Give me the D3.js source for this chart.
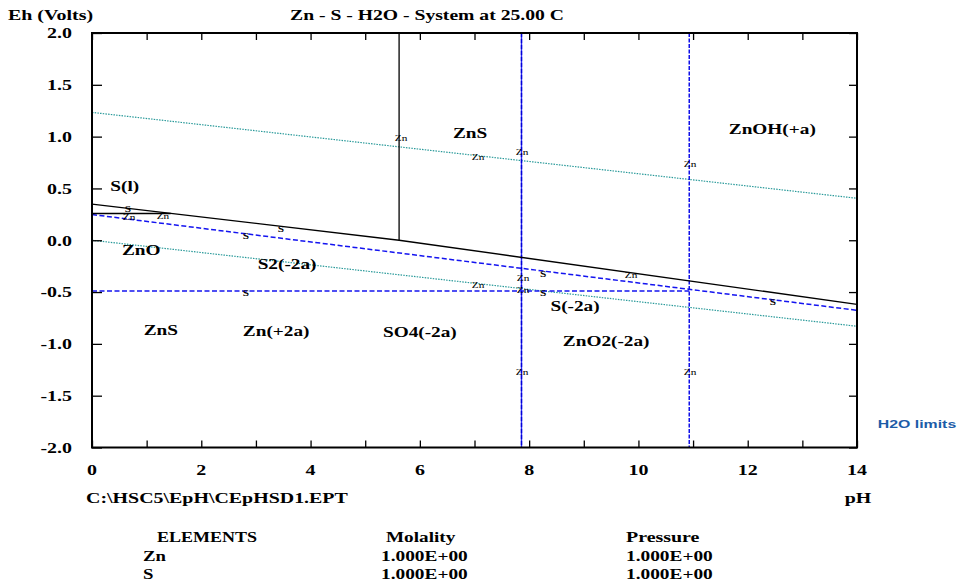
<!DOCTYPE html>
<html><head><meta charset="utf-8">
<script src="https://cdn.jsdelivr.net/npm/d3@7"></script>
<style>body{margin:0;background:#fff}svg{display:block}</style>
</head><body><svg id="c" width="963" height="582"></svg>
<script>
// ---------- data ----------
const xTickValues = [0,1,2,3,4,5,6,7,8,9,10,11,12,13,14];
const xTickLabels = ["0","2","4","6","8","10","12","14"];
const yTickValues = [2.0,1.5,1.0,0.5,0.0,-0.5,-1.0,-1.5,-2.0];
const yTickLabels = ["2.0","1.5","1.0","0.5","0.0","-0.5","-1.0","-1.5","-2.0"];

// boundary lines (pH, Eh)
const znMain   = [[0,0.348],[5.62,0.0],[14,-0.618]];
const znVert   = [[5.62,2.0],[5.62,0.0]];
const znShort  = [[0,0.258],[1.44,0.258]];
const sSlope   = [[0,0.248],[14,-0.676]];
const sFlat    = [[0,-0.49],[10.93,-0.49]];
const vertA    = [[7.86,2.0],[7.86,-2.0]];
const vertB    = [[10.93,2.0],[10.93,-2.0]];
const h2oUpper = [[0,1.234],[14,0.405]];
const h2oLower = [[0,0.0],[14,-0.83]];

// region labels
const regionText = ["S(l)","ZnO","S2(-2a)","ZnS","ZnOH(+a)","S(-2a)","ZnO2(-2a)","ZnS","Zn(+2a)","SO4(-2a)"];
const regionPH   = [0.60,0.90,3.57,6.92,12.45,8.84,9.41,1.26,3.37,6.00];
const regionEh   = [0.522,-0.097,-0.232,1.034,1.072,-0.638,-0.976,-0.870,-0.879,-0.889];

// small line-tag labels
const tagText = ["Zn","Zn","Zn","Zn","Zn","S","Zn","Zn","S","Zn","S","Zn","Zn","S","Zn","Zn","S","S","S"];
const tagPH   = [5.655,7.064,7.870,10.944,7.888,8.254,7.064,7.888,8.254,9.865,12.463,10.944,7.870,0.659,0.677,1.299,2.818,3.459,2.818];
const tagEh   = [0.986,0.802,0.850,0.734,-0.367,-0.329,-0.435,-0.483,-0.512,-0.338,-0.599,-1.275,-1.275,0.306,0.228,0.232,0.039,0.106,-0.512];

const elements = ["Zn","S"];
const molality = ["1.000E+00","1.000E+00"];
const pressure = ["1.000E+00","1.000E+00"];

// ---------- drawing ----------
const svg = d3.select("#c");
const x = d3.scaleLinear().domain([0,14]).range([92,857]);
const y = d3.scaleLinear().domain([-2,2]).range([447.5,33]);
const SERIF = "'Liberation Serif','Times New Roman',serif";
const SX = 1.33;

function stext(g, t, px, py, size, anchor, opts={}) {
  return g.append("text")
    .attr("transform", `translate(${px},${py}) scale(${opts.sx||SX},1)`)
    .attr("text-anchor", anchor)
    .attr("dy", "0.35em")
    .attr("font-family", opts.family || SERIF)
    .attr("font-weight", opts.weight || "bold")
    .attr("font-size", size)
    .attr("fill", opts.fill || "#000")
    .text(t);
}

const line = d3.line().x(d=>x(d[0])).y(d=>y(d[1]));

// water limits (teal dotted)
[h2oUpper,h2oLower].forEach(d=>svg.append("path").attr("d",line(d))
  .attr("fill","none").attr("stroke","#2a9a9a").attr("stroke-width",1.2).attr("stroke-dasharray","1.5,1.2"));

// blue lines
[sSlope,sFlat].forEach(d=>svg.append("path").attr("d",line(d))
  .attr("fill","none").attr("stroke","#1414f0").attr("stroke-width",1.5).attr("stroke-dasharray","5,2.5"));
svg.append("path").attr("d",line(vertA)).attr("fill","none").attr("stroke","#2a2af5").attr("stroke-width",1.4);
svg.append("path").attr("d",line(vertA)).attr("fill","none").attr("stroke","#0000d8").attr("stroke-width",1.4).attr("stroke-dasharray","4,2");
svg.append("path").attr("d",line(vertB)).attr("fill","none").attr("stroke","#1010e8").attr("stroke-width",1.5).attr("stroke-dasharray","4,1.5");

// black boundaries
[znMain,znVert,znShort].forEach(d=>svg.append("path").attr("d",line(d))
  .attr("fill","none").attr("stroke","#000").attr("stroke-width",1.3));

// frame
svg.append("rect").attr("x",x(0)).attr("y",y(2)).attr("width",x(14)-x(0)).attr("height",y(-2)-y(2))
  .attr("fill","none").attr("stroke","#000").attr("stroke-width",2);

// ticks via axes
function tickAxis(axis, tx, ty){
  const g = svg.append("g").attr("transform",`translate(${tx},${ty})`).call(axis);
  g.select(".domain").remove();
  g.selectAll("line").attr("stroke","#000").attr("stroke-width",1.3);
  g.selectAll("text").remove();
}
tickAxis(d3.axisBottom(x).tickValues(xTickValues).tickSize(-7).tickFormat(""),0,y(-2));
tickAxis(d3.axisTop(x).tickValues(xTickValues).tickSize(-7).tickFormat(""),0,y(2));
tickAxis(d3.axisLeft(y).tickValues(yTickValues).tickSize(-10).tickFormat(""),x(0),0);
tickAxis(d3.axisRight(y).tickValues(yTickValues).tickSize(-8).tickFormat(""),x(14),0);

// tick labels
const lab = svg.append("g");
yTickValues.forEach((v,i)=>stext(lab,yTickLabels[i],72,y(v),15,"end"));
xTickLabels.forEach(t=>stext(lab,t,x(+t),470,15,"middle"));

// titles
stext(svg,"Eh (Volts)",8,15,15,"start");
stext(svg,"Zn - S - H2O - System at 25.00 C",427,15,15,"middle",{sx:1.31});
stext(svg,"C:\\HSC5\\EpH\\CEpHSD1.EPT",86,498,15,"start");
stext(svg,"pH",858,498,15,"middle");
stext(svg,"H2O limits",917,424,11.5,"middle",{family:"'Liberation Sans',Arial,sans-serif",fill:"#1c5ca8",sx:1.38});

// region labels
regionText.forEach((t,i)=>stext(svg,t,x(regionPH[i]),y(regionEh[i]),14.5,"middle"));

// small tags
tagText.forEach((t,i)=>stext(svg,t,x(tagPH[i]),y(tagEh[i]),t==="S"?8.5:8.5,"middle",{weight:t==="S"?"bold":"normal"}));

// element table
stext(svg,"ELEMENTS",207,537,15,"middle",{sx:1.2});
stext(svg,"Molality",386,537,15,"start",{sx:1.28});
stext(svg,"Pressure",626,537,15,"start",{sx:1.33});
elements.forEach((e,i)=>{
  const yy = 556 + i*18;
  stext(svg,e,143,yy,15,"start",{sx:1.25});
  stext(svg,molality[i],381,yy,15,"start",{sx:1.29});
  stext(svg,pressure[i],626,yy,15,"start",{sx:1.29});
});
</script></body></html>
